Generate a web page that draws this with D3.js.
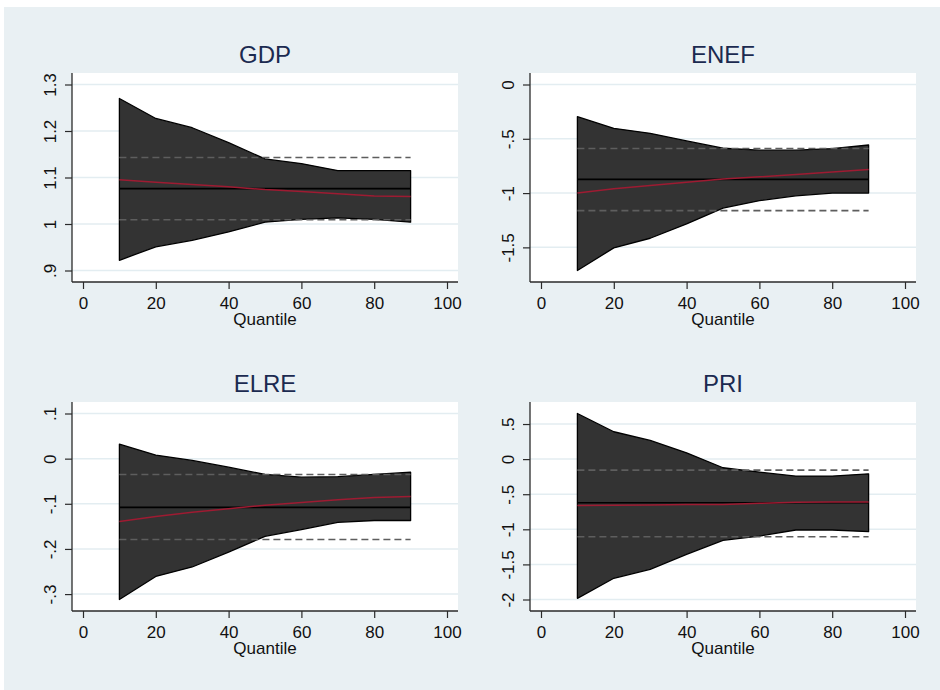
<!DOCTYPE html>
<html>
<head>
<meta charset="utf-8">
<script src="https://cdn.jsdelivr.net/npm/d3@7/dist/d3.min.js"></script>
<style>
  html, body { margin: 0; padding: 0; background: #ffffff; }
  svg { display: block; }
  text { font-family: "Liberation Sans", Arial, sans-serif; }
</style>
</head>
<body>
<svg id="chart" width="940" height="690"></svg>
<script>
// ---- Data ----
const quantiles = [10, 20, 30, 40, 50, 60, 70, 80, 90];
const xTicks = [0, 20, 40, 60, 80, 100];
const panelTitles = ["GDP", "ENEF", "ELRE", "PRI"];

// GDP
const gdpUpper = [1.270, 1.227, 1.207, 1.175, 1.140, 1.130, 1.115, 1.115, 1.115];
const gdpLower = [0.922, 0.951, 0.965, 0.983, 1.004, 1.010, 1.013, 1.010, 1.004];
const gdpQR    = [1.095, 1.090, 1.085, 1.080, 1.074, 1.070, 1.065, 1.060, 1.059];
const gdpOLS = 1.076, gdpOLSHi = 1.143, gdpOLSLo = 1.009;
const gdpTicks = [0.9, 1.0, 1.1, 1.2, 1.3];
const gdpTickLabels = [".9", "1", "1.1", "1.2", "1.3"];

// ENEF
const enefUpper = [-0.296, -0.404, -0.450, -0.520, -0.587, -0.605, -0.605, -0.590, -0.557];
const enefLower = [-1.713, -1.505, -1.416, -1.284, -1.138, -1.070, -1.025, -1.000, -1.000];
const enefQR    = [-1.000, -0.960, -0.930, -0.900, -0.870, -0.850, -0.830, -0.805, -0.783];
const enefOLS = -0.874, enefOLSHi = -0.590, enefOLSLo = -1.162;
const enefTicks = [-1.5, -1, -0.5, 0];
const enefTickLabels = ["-1.5", "-1", "-.5", "0"];

// ELRE
const elreUpper = [0.032, 0.008, -0.004, -0.019, -0.035, -0.041, -0.040, -0.035, -0.030];
const elreLower = [-0.312, -0.261, -0.240, -0.207, -0.172, -0.157, -0.141, -0.137, -0.137];
const elreQR    = [-0.139, -0.128, -0.119, -0.111, -0.103, -0.097, -0.091, -0.086, -0.084];
const elreOLS = -0.108, elreOLSHi = -0.035, elreOLSLo = -0.179;
const elreTicks = [-0.3, -0.2, -0.1, 0, 0.1];
const elreTickLabels = ["-.3", "-.2", "-.1", "0", ".1"];

// PRI
const priUpper = [0.650, 0.390, 0.266, 0.090, -0.123, -0.185, -0.242, -0.242, -0.209];
const priLower = [-1.983, -1.698, -1.570, -1.357, -1.157, -1.096, -1.010, -1.010, -1.034];
const priQR    = [-0.659, -0.656, -0.652, -0.648, -0.645, -0.630, -0.614, -0.612, -0.612];
const priOLS = -0.621, priOLSHi = -0.157, priOLSLo = -1.105;
const priTicks = [-2, -1.5, -1, -0.5, 0, 0.5];
const priTickLabels = ["-2", "-1.5", "-1", "-.5", "0", ".5"];

const panels = [
  {title: panelTitles[0], up: gdpUpper, lo: gdpLower, qr: gdpQR, ols: gdpOLS, hi: gdpOLSHi, olo: gdpOLSLo, ticks: gdpTicks, labels: gdpTickLabels},
  {title: panelTitles[1], up: enefUpper, lo: enefLower, qr: enefQR, ols: enefOLS, hi: enefOLSHi, olo: enefOLSLo, ticks: enefTicks, labels: enefTickLabels},
  {title: panelTitles[2], up: elreUpper, lo: elreLower, qr: elreQR, ols: elreOLS, hi: elreOLSHi, olo: elreOLSLo, ticks: elreTicks, labels: elreTickLabels},
  {title: panelTitles[3], up: priUpper, lo: priLower, qr: priQR, ols: priOLS, hi: priOLSHi, olo: priOLSLo, ticks: priTicks, labels: priTickLabels}
];

// ---- Layout ----
const svg = d3.select("#chart");
svg.append("rect").attr("x", 4).attr("y", 7).attr("width", 936).attr("height", 683).attr("fill", "#e9f0f3");

const plotW = 386, plotH = 209;
const origins = [[72, 73], [530, 73], [72, 402], [530, 402]];
const padX = 11, padY = 11.5;

panels.forEach((p, i) => {
  const [left, top] = origins[i];
  const right = left + plotW, bottom = top + plotH;
  const g = svg.append("g");

  const allVals = p.up.concat(p.lo, p.ticks, [p.hi, p.olo]);
  const x = d3.scaleLinear().domain([0, 100]).range([left + padX, right - padX]);
  const y = d3.scaleLinear().domain([d3.min(allVals), d3.max(allVals)]).range([bottom - padY, top + padY]);

  // plot area
  g.append("rect").attr("x", left).attr("y", top).attr("width", plotW).attr("height", plotH).attr("fill", "#ffffff");

  // gridlines
  g.selectAll(".grid").data(p.ticks).enter().append("line")
    .attr("x1", left).attr("x2", right)
    .attr("y1", d => y(d)).attr("y2", d => y(d))
    .attr("stroke", "#e3edf1").attr("stroke-width", 1.5);

  // band
  const rows = quantiles.map((q, k) => ({q, u: p.up[k], l: p.lo[k], r: p.qr[k]}));
  const area = d3.area().x(d => x(d.q)).y0(d => y(d.l)).y1(d => y(d.u));
  g.append("path").datum(rows).attr("d", area + "")
    .attr("d", area(rows) + "Z")
    .attr("fill", "#333333").attr("stroke", "#000000").attr("stroke-width", 1.3).attr("stroke-linejoin", "round");

  const x0 = x(quantiles[0]), x1 = x(quantiles[quantiles.length - 1]);
  // OLS confidence (dashed)
  [p.hi, p.olo].forEach(v => {
    g.append("line").attr("x1", x0).attr("x2", x1).attr("y1", y(v)).attr("y2", y(v))
      .attr("stroke", "#5e5e5e").attr("stroke-width", 1.6).attr("stroke-dasharray", "7,4");
  });
  // OLS estimate
  g.append("line").attr("x1", x0).attr("x2", x1).attr("y1", y(p.ols)).attr("y2", y(p.ols))
    .attr("stroke", "#000000").attr("stroke-width", 1.6);
  // quantile estimate
  g.append("path").datum(rows)
    .attr("d", d3.line().x(d => x(d.q)).y(d => y(d.r)))
    .attr("fill", "none").attr("stroke", "#9e1b32").attr("stroke-width", 1.5);

  // axes
  const axisColor = "#2a2a2a";
  g.append("line").attr("x1", left).attr("x2", left).attr("y1", top).attr("y2", bottom).attr("stroke", axisColor).attr("stroke-width", 1.3);
  g.append("line").attr("x1", left).attr("x2", right).attr("y1", bottom).attr("y2", bottom).attr("stroke", axisColor).attr("stroke-width", 1.3);

  const xAxis = g.append("g").attr("transform", `translate(0,${bottom})`)
    .call(d3.axisBottom(x).tickValues(xTicks).tickSize(7).tickPadding(8).tickFormat(d3.format("d")));
  xAxis.select(".domain").remove();
  xAxis.selectAll("line").attr("stroke", axisColor).attr("stroke-width", 1.2);
  xAxis.selectAll("text").attr("fill", "#111111").attr("font-size", "17px")
    .attr("font-family", "'Liberation Sans', Arial, sans-serif");

  const yAxis = g.append("g").attr("transform", `translate(${left},0)`)
    .call(d3.axisLeft(y).tickValues(p.ticks).tickSize(7).tickFormat((d, k) => p.labels[k]));
  yAxis.select(".domain").remove();
  yAxis.selectAll("line").attr("stroke", axisColor).attr("stroke-width", 1.2);
  yAxis.selectAll("text")
    .attr("fill", "#111111").attr("font-size", "17px")
    .attr("font-family", "'Liberation Sans', Arial, sans-serif")
    .attr("text-anchor", "middle").attr("dy", 0)
    .attr("x", null)
    .attr("transform", "translate(-16,0) rotate(-90)");

  // titles
  g.append("text").attr("x", (left + right) / 2).attr("y", top - 10)
    .attr("text-anchor", "middle").attr("font-size", "24px").attr("fill", "#1b2a50").text(p.title);
  g.append("text").attr("x", (left + right) / 2).attr("y", bottom + 43)
    .attr("text-anchor", "middle").attr("font-size", "17px").attr("fill", "#111111").text("Quantile");
});
</script>
</body>
</html>
